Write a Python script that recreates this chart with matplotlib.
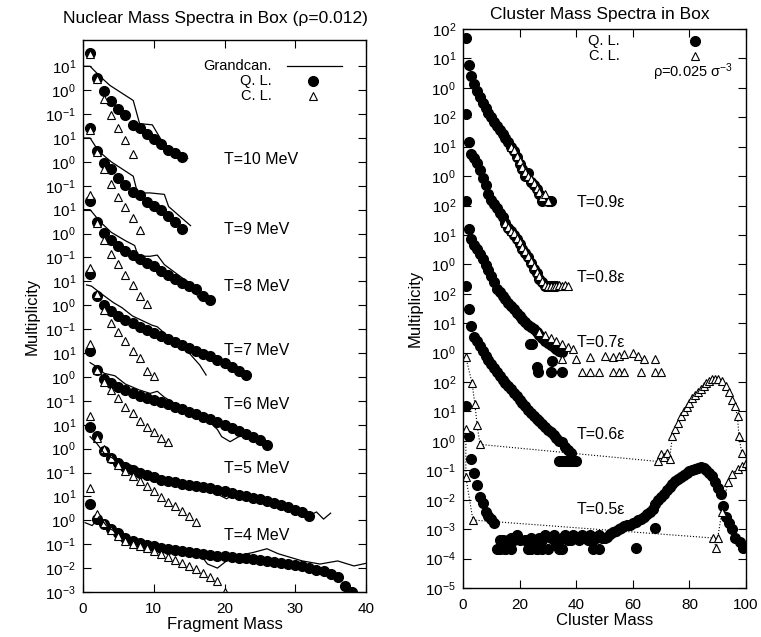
"""Stacked multiplicity spectra: nuclear fragments (left) and LJ clusters (right)."""

import numpy as np
import matplotlib

matplotlib.use("Agg")
import matplotlib.pyplot as plt
from matplotlib.ticker import FixedFormatter, FixedLocator, NullLocator

plt.rcParams["font.family"] = ["Liberation Sans", "DejaVu Sans"]
plt.rcParams["mathtext.fontset"] = "custom"
plt.rcParams["mathtext.rm"] = "Liberation Sans"
plt.rcParams["mathtext.it"] = "Liberation Sans:italic"
plt.rcParams["mathtext.default"] = "regular"

# ---- left panel: log10(multiplicity) per block, Q.L. / C.L. at mass 1..N ----
nuc_labels = ["T=10 MeV", "T=9 MeV", "T=8 MeV", "T=7 MeV", "T=6 MeV", "T=5 MeV", "T=4 MeV"]

t10_ql = [1.55, 0.49, -0.05, -0.44, -0.77, -1.03, -1.45, -1.57, -1.83, -2.04, -2.25, -2.5, -2.63, -2.8]
t10_cl = [1.5, 0.45, -0.35, -1.03, -1.57, -2.1, -2.65]
t10_gc_x = [0, 1.0, 2.4, 3.8, 7.1, 8.0, 9.8, 11.5, 13, 14.8]
t10_gc_y = [1.0, 1.0, 0.58, 0.2, -0.43, -1.4, -1.45, -2.3, -2.55, -2.85]

t9_ql = [1.42, 0.45, -0.05, -0.3, -0.69, -0.98, -1.24, -1.4, -1.66, -1.83, -2.0, -2.25, -2.5, -2.8]
t9_cl = [1.35, 0.4, -0.3, -0.94, -1.45, -1.9, -2.33, -2.84]
t9_gc_x = [0, 1.0, 2.2, 4, 7.1, 7.7, 9.5, 11.5, 12.1, 15.2]
t9_gc_y = [1.0, 1.0, 0.45, 0.0, -0.6, -1.3, -1.3, -1.36, -1.87, -2.67]

t8_ql = [1.38, 0.5, 0.03, -0.25, -0.52, -0.73, -0.9, -1.07, -1.24, -1.36, -1.57, -1.74,
         -1.9, -2.05, -2.2, -2.33, -2.6, -2.8]
t8_cl = [1.6, 0.45, -0.26, -0.84, -1.28, -1.74, -2.16, -2.6, -2.96]
t8_gc_x = [0, 1.0, 2.4, 4, 6, 7.3, 7.8, 9.5, 10.5, 11.5, 14, 15.5, 16.3, 17]
t8_gc_y = [1.0, 1.0, 0.5, 0.05, -0.3, -0.5, -0.95, -0.95, -0.9, -1.3, -1.85, -2.15, -2.7, -2.5]

t7_ql = [1.3, 0.4, 0.0, -0.25, -0.45, -0.6, -0.75, -0.9, -1.05, -1.18, -1.3, -1.42, -1.53,
         -1.65, -1.77, -1.9, -2.02, -2.14, -2.28, -2.42, -2.57, -2.75, -2.92]
t7_cl = [1.55, 0.45, -0.18, -0.73, -1.11, -1.49, -1.9, -2.2, -2.75, -2.97]
t7_gc_x = [0.5, 1.2, 2.5, 4.3, 5.5, 7.0, 9.8, 10.5, 12, 15, 16.5, 17.4]
t7_gc_y = [0.85, 0.8, 0.5, 0.11, -0.1, -0.45, -0.84, -0.9, -1.3, -2.0, -2.5, -2.92]

t6_ql = [1.08, 0.28, -0.1, -0.27, -0.42, -0.55, -0.67, -0.78, -0.88, -0.95, -1.05, -1.15, -1.25,
         -1.35, -1.45, -1.56, -1.67, -1.78, -1.9, -2.02, -2.14, -2.26, -2.38, -2.5, -2.65, -2.85]
t6_cl = [1.38, 0.3, -0.2, -0.56, -0.9, -1.24, -1.53, -1.83, -2.08, -2.29, -2.54, -2.71]
t6_gc_x = [1.0, 1.8, 3.0, 4.5, 6.0, 8.0, 9.5, 10.5, 11.5, 14, 17.7, 19.0, 19.6, 20.8, 22.0, 23.0, 25.0, 26.5]
t6_gc_y = [0.6, 0.45, 0.15, 0.05, -0.3, -0.55, -0.69, -0.6, -0.85, -1.3, -1.83, -2.2, -2.5, -2.71,
           -2.5, -2.46, -2.65, -2.9]

t5_ql = [0.92, 0.54, -0.1, -0.4, -0.6, -0.75, -0.9, -1.0, -1.1, -1.2, -1.3, -1.36, -1.41, -1.46,
         -1.51, -1.55, -1.6, -1.66, -1.72, -1.78, -1.85, -1.92, -1.98, -2.05, -2.12, -2.2, -2.28,
         -2.36, -2.45, -2.55, -2.65, -2.84]
t5_cl = [1.38, 0.45, -0.01, -0.4, -0.7, -0.94, -1.15, -1.36, -1.57, -1.78, -2.04, -2.25, -2.42,
         -2.59, -2.84, -3.05]
t5_gc_x = [1.0, 2.0, 3.0, 4.5, 6.0, 8.0, 10, 14, 18, 19.3, 20.3, 21.5, 23, 26, 30, 32, 33, 34, 35]
t5_gc_y = [0.5, 0.2, -0.2, -0.45, -0.6, -0.85, -1.1, -1.4, -1.55, -1.95, -2.1, -1.85, -1.9, -2.15,
           -2.5, -2.8, -2.65, -2.95, -2.7]

t4_ql = [0.7, 0.07, -0.14, -0.35, -0.55, -0.72, -0.86, -0.95, -1.02, -1.08, -1.14, -1.19, -1.24,
         -1.29, -1.34, -1.38, -1.42, -1.45, -1.48, -1.51, -1.53, -1.56, -1.59, -1.62, -1.65, -1.69,
         -1.73, -1.77, -1.82, -1.87, -1.93, -1.99, -2.06, -2.14, -2.25, -2.38, -2.76, -3.0]
t4_cl = [1.34, 0.25, -0.1, -0.4, -0.65, -0.85, -1.0, -1.08, -1.15, -1.27, -1.4, -1.52, -1.65,
         -1.77, -1.9, -2.05, -2.2, -2.38, -2.55, -3.0]
t4_gc_x = [0.3, 1.3, 2.3, 3.5, 6, 10, 14, 16.5, 17.6, 19, 21, 24, 26, 27.6, 31, 33.5, 36, 38.3, 40]
t4_gc_y = [-0.1, -0.22, 0.16, -0.3, -0.7, -1.0, -1.25, -1.4, -1.83, -2.0, -1.53, -1.35, -1.19,
           -1.4, -1.7, -1.83, -1.7, -1.91, -1.8]

# ---- right panel: log10(multiplicity) per block ----
lj_labels = ["T=0.9\u03b5", "T=0.8\u03b5", "T=0.7\u03b5", "T=0.6\u03b5", "T=0.5\u03b5"]

t09_ql = [1.69, 0.77, 0.4, 0.12, -0.12, -0.32, -0.5, -0.68, -0.85, -1.0, -1.15, -1.3, -1.43, -1.57,
          -1.7, -1.85, -2.0, -2.15, -2.35, -2.6, -2.75, -3.0, -2.9, -3.2, -3.3, -3.45, -3.6, -3.85,
          -3.8, -3.85, -3.85]
t09_cl_x = [17, 18, 19, 20, 21, 22, 23, 24, 25, 26, 27, 28, 29, 30]
t09_cl_y = [-2.0, -2.1, -2.3, -2.5, -2.7, -2.85, -3.0, -3.1, -3.25, -3.4, -3.55, -3.7, -3.6, -3.85]

t08_ql = [2.1, 1.17, 0.76, 0.6, 0.45, 0.2, -0.05, -0.3, -0.6, -0.8, -0.95, -1.1, -1.25, -1.4, -1.6,
          -1.75, -1.88, -2.0, -2.15, -2.3, -2.47, -2.6, -2.75, -2.95, -3.15, -3.3, -3.5, -3.6,
          -3.73, -3.73, -3.73, -3.73, -3.73]
t08_cl_x = [15, 16, 17, 18, 19, 20, 21, 22, 23, 24, 25, 26, 27, 28, 29, 30, 31, 32, 33, 34, 35, 36, 37]
t08_cl_y = [-1.6, -1.72, -1.85, -1.95, -2.1, -2.25, -2.4, -2.55, -2.7, -2.9, -3.05, -3.25, -3.4,
            -3.55, -3.7, -3.73, -3.73, -3.73, -3.73, -3.7, -3.72, -3.7, -3.72]

t07_ql = [2.17, 1.2, 0.85, 0.65, 0.53, 0.35, 0.17, -0.02, -0.2, -0.4, -0.6, -0.83, -0.95, -1.07,
          -1.18, -1.3, -1.42, -1.53, -1.64, -1.75, -1.86, -1.97, -2.05, -2.12, -2.2, -2.3, -2.4,
          -2.5, -2.6, -2.68, -2.75, -2.8, -2.87, -2.93, -2.98]
t07_ql_tail_x = [23.6, 24.3, 31.5, 26, 26.5, 31, 35]
t07_ql_tail_y = [-2.7, -2.72, -3.3, -3.5, -3.67, -3.67, -3.67]
t07_cl_x = [27, 29, 31, 33, 35, 37, 39, 35, 40, 45, 50, 53, 55, 57, 60, 62, 64, 68,
            42, 45, 48, 53, 55, 57, 63, 68, 70]
t07_cl_y = [-2.3, -2.4, -2.5, -2.6, -2.7, -2.8, -2.88, -3.2, -3.2, -3.15, -3.1, -3.15, -3.1, -3.05,
            -3.0, -3.1, -3.2, -3.2, -3.67, -3.67, -3.67, -3.67, -3.67, -3.67, -3.67, -3.67, -3.67]

t06_ql = [2.27, 1.49, 0.9, 0.53, 0.38, 0.23, 0.05, -0.1, -0.25, -0.4, -0.53, -0.66, -0.8, -0.92,
          -1.03, -1.15, -1.25, -1.36, -1.48, -1.6, -1.7, -1.82, -1.94, -2.05, -2.16, -2.25, -2.34,
          -2.43, -2.52, -2.62, -2.7, -2.8, -2.9, -3.0, -3.05, -3.2, -3.3, -3.4]
t06_ql_tail_x = [34, 35, 36, 37, 38, 39, 40]
t06_ql_tail_y = [-3.7, -3.7, -3.7, -3.7, -3.7, -3.7, -3.7]
t06_cl_x = [1, 3.2, 4.2, 5, 6, 69, 70, 71, 72, 73, 74, 75, 76, 77, 78, 79, 80, 81, 82, 83, 84, 85,
            86, 87, 88, 89, 90, 91.5, 93, 94, 95, 96, 97, 97.5, 98.5]
t06_cl_y = [-0.15, -1.04, -1.75, -2.47, -3.12, -3.7, -3.45, -3.55, -3.4, -3.6, -2.85, -2.6, -2.4,
            -2.16, -2.0, -1.85, -1.7, -1.55, -1.45, -1.35, -1.24, -1.12, -1.02, -0.95, -0.9, -0.88,
            -0.9, -0.95, -1.15, -1.34, -1.6, -1.8, -2.16, -2.85, -3.4]

t05_ql = [1.18, 0.16, -0.6, -1.1, -1.5, -1.9, -2.1, -2.4, -2.55, -2.65, -2.78]
t05_ql_low_x = [12, 13, 14, 15, 16, 17, 18, 19, 20, 22, 23, 24, 25, 26, 27, 28, 29, 30, 31, 32, 33,
                34, 35, 36, 37, 38, 39, 40, 41, 42, 43, 44, 45, 46, 47, 48, 49,
                13, 15, 17, 24, 26, 28, 33, 35, 46, 48, 61, 68]
t05_ql_low_y = [-3.67, -3.36, -3.36, -3.67, -3.36, -3.3, -3.36, -3.2, -3.36, -3.36, -3.67, -3.3,
                -3.36, -3.67, -3.3, -3.36, -3.2, -3.67, -3.3, -3.2, -3.36, -3.67, -3.3, -3.2, -3.36,
                -3.36, -3.2, -3.3, -3.36, -3.2, -3.3, -3.36, -3.2, -3.67, -3.3, -3.2, -3.3,
                -3.67, -3.67, -3.67, -3.67, -3.67, -3.67, -3.5, -3.67, -3.36, -3.67, -3.63, -2.95]
t05_ql_peak_x = list(range(50, 97)) + [98, 99]
t05_ql_peak_y = [-3.3, -3.25, -3.15, -3.1, -3.05, -3.0, -2.95, -2.9, -2.85, -2.85, -2.8, -2.75,
                 -2.7, -2.65, -2.6, -2.5, -2.4, -2.3, -2.15, -2.0, -1.89, -1.8, -1.68, -1.56, -1.45,
                 -1.36, -1.3, -1.22, -1.15, -1.08, -1.02, -0.98, -0.95, -0.92, -0.9, -0.92, -0.98,
                 -1.08, -1.2, -1.4, -1.6, -1.8, -2.2, -2.57, -2.78, -3.0, -3.3, -3.45, -3.63]
t05_cl_x = [1, 1, 3.5, 88.3, 89.5, 90, 91.5, 93.6, 95, 97, 98.5, 100]
t05_cl_y = [0.4, -1.22, -2.69, -3.3, -3.63, -3.3, -2.4, -1.41, -1.14, -0.95, -0.87, -0.75]

DPI = 100
CIRCLE = dict(ls="none", marker="o", color="black", ms=7)
TRIANGLE = dict(ls="none", marker="^", mfc="white", mec="black", ms=5.5, mew=0.8)


def lift(logs, blocks_up):
    # each temperature sits 3 decades above the next one
    return 10.0 ** (np.asarray(logs, dtype=float) + 3 * blocks_up)


def stacked_ticks(ax, block_exps):
    pos, lab = [], []
    n = len(block_exps)
    for k, exps in enumerate(block_exps):
        for e in exps:
            pos.append(10.0 ** (e + 3 * (n - 1 - k)))
            lab.append(r"$\mathregular{10^{%d}}$" % e)
    ax.yaxis.set_major_locator(FixedLocator(pos))
    ax.yaxis.set_major_formatter(FixedFormatter(lab))
    ax.yaxis.set_minor_locator(NullLocator())


def style_axes(ax):
    ax.tick_params(direction="in", length=6, width=0.8, top=True, right=True, labelsize=11, pad=5)
    ax.tick_params(axis="x", pad=7)
    for sp in ax.spines.values():
        sp.set_linewidth(1.0)


def key_entry(ax, x_text, x_key, y, label, **style):
    ax.text(x_text, y, label, transform=ax.transAxes, ha="right", va="center", fontsize=10.5)
    if "marker" in style:
        ax.plot([x_key], [y], transform=ax.transAxes, **style)
    else:
        ax.plot(x_key, [y, y], transform=ax.transAxes, **style)


fig = plt.figure(figsize=(761 / DPI, 637 / DPI), dpi=DPI)
axl = fig.add_axes([83 / 761, 45 / 637, 283 / 761, 552 / 637])
axr = fig.add_axes([463 / 761, 49 / 637, 283 / 761, 559 / 637])

# ---- left ----
nuc_blocks = [
    (t10_ql, t10_cl, t10_gc_x, t10_gc_y),
    (t9_ql, t9_cl, t9_gc_x, t9_gc_y),
    (t8_ql, t8_cl, t8_gc_x, t8_gc_y),
    (t7_ql, t7_cl, t7_gc_x, t7_gc_y),
    (t6_ql, t6_cl, t6_gc_x, t6_gc_y),
    (t5_ql, t5_cl, t5_gc_x, t5_gc_y),
    (t4_ql, t4_cl, t4_gc_x, t4_gc_y),
]
nuc_label_y = [0.783, 0.656, 0.553, 0.438, 0.339, 0.223, 0.103]
for k, (ql, cl, gx, gy) in enumerate(nuc_blocks):
    up = len(nuc_blocks) - 1 - k
    axl.plot(np.arange(1, len(ql) + 1), lift(ql, up), **CIRCLE)
    axl.plot(np.arange(1, len(cl) + 1), lift(cl, up), **TRIANGLE)
    axl.plot(gx, lift(gy, up), color="black", lw=0.9)
    axl.text(20, nuc_label_y[k], nuc_labels[k], transform=axl.get_yaxis_transform().inverted()
             if False else axl.get_xaxis_transform(), fontsize=11.5, va="center")

axl.set_yscale("log")
axl.set_xlim(0, 40)
axl.set_ylim(1e-3, 10 ** 20.1)
axl.set_xticks([0, 10, 20, 30, 40])
stacked_ticks(axl, [[1, 0, -1]] * 6 + [[1, 0, -1, -2, -3]])
style_axes(axl)
axl.set_xlabel("Fragment Mass", fontsize=12, labelpad=1)
axl.set_ylabel("Multiplicity", fontsize=12, labelpad=4)

# key, gnuplot style (text first, sample on the right)
key_entry(axl, 0.668, [0.721, 0.915], 0.952, "Grandcan.", color="black", lw=0.9)
key_entry(axl, 0.668, 0.813, 0.925, "Q. L.", **CIRCLE)
key_entry(axl, 0.668, 0.813, 0.898, "C. L.", **TRIANGLE)

# ---- right ----
lj_dense = [t09_ql, t08_ql, t07_ql, t06_ql]
for k, ql in enumerate(lj_dense):
    axr.plot(np.arange(1, len(ql) + 1), lift(ql, 4 - k), **CIRCLE)
axr.plot(t07_ql_tail_x, lift(t07_ql_tail_y, 2), **CIRCLE)
axr.plot(t06_ql_tail_x, lift(t06_ql_tail_y, 1), **CIRCLE)
axr.plot(np.arange(1, len(t05_ql) + 1), lift(t05_ql, 0), **CIRCLE)
axr.plot(t05_ql_low_x, lift(t05_ql_low_y, 0), **CIRCLE)
axr.plot(t05_ql_peak_x, lift(t05_ql_peak_y, 0), **CIRCLE)

axr.plot(t09_cl_x, lift(t09_cl_y, 4), **TRIANGLE)
axr.plot(t08_cl_x, lift(t08_cl_y, 3), **TRIANGLE)
axr.plot(t07_cl_x, lift(t07_cl_y, 2), **TRIANGLE)
axr.plot(t06_cl_x, lift(t06_cl_y, 1), color="black", lw=0.8, ls=":", marker="^",
         mfc="white", mec="black", ms=5.5, mew=0.8)
axr.plot(t05_cl_x, lift(t05_cl_y, 0), color="black", lw=0.8, ls=":", marker="^",
         mfc="white", mec="black", ms=5.5, mew=0.8)

lj_label_y = [0.69, 0.556, 0.44, 0.274, 0.14]
for k, lab in enumerate(lj_labels):
    axr.text(40, lj_label_y[k], lab, transform=axr.get_xaxis_transform(), fontsize=11.5, va="center")

axr.set_yscale("log")
axr.set_xlim(0, 100)
axr.set_ylim(1e-5, 1e14)
axr.set_xticks([0, 20, 40, 60, 80, 100])
stacked_ticks(axr, [[2, 1, 0]] * 4 + [[2, 1, 0, -1, -2, -3, -4, -5]])
style_axes(axr)
axr.set_xlabel("Cluster Mass", fontsize=12, labelpad=1)
axr.set_ylabel("Multiplicity", fontsize=12, labelpad=2)

key_entry(axr, 0.555, 0.82, 0.978, "Q. L.", **CIRCLE)
key_entry(axr, 0.555, 0.82, 0.951, "C. L.", **TRIANGLE)
axr.text(0.955, 0.922, r"$\rho$=0.025 $\sigma^{-3}$", transform=axr.transAxes, ha="right",
         va="center", fontsize=10.5)

fig.text(215 / 761, 1 - 19 / 637, "Nuclear Mass Spectra in Box (\u03c1=0.012)", ha="center",
         va="center", fontsize=12.5)
fig.text(600 / 761, 1 - 14 / 637, "Cluster Mass Spectra in Box", ha="center", va="center",
         fontsize=12.5)

fig.savefig("out.png", dpi=DPI)
